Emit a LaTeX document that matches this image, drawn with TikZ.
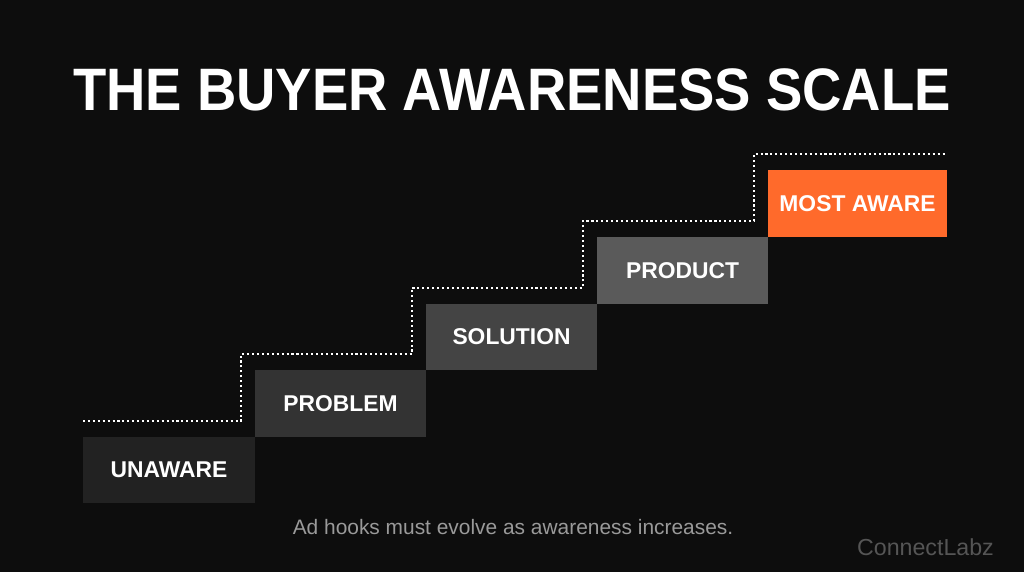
\documentclass[tikz,border=0pt]{standalone}
\usepackage{fontspec}
\setmainfont{Liberation Sans}
\usetikzlibrary{calc}
\definecolor{bg}{HTML}{0D0D0D}
\definecolor{s1}{HTML}{222222}
\definecolor{s2}{HTML}{333333}
\definecolor{s3}{HTML}{444444}
\definecolor{s4}{HTML}{5A5A5A}
\definecolor{orng}{HTML}{FF6A2B}
\definecolor{foot}{HTML}{9A9A9A}
\definecolor{brand}{HTML}{555555}
\tikzset{
  stepbox/.style={inner sep=0pt, outer sep=0pt, anchor=north west,
    minimum width=171*0.02cm, minimum height=67*0.02cm,
    text=white, font=\fontsize{13}{15}\selectfont\bfseries},
  stairline/.style={white, line width=1pt, dash pattern=on 1.2pt off 1.6pt}
}
\begin{document}
\begin{tikzpicture}[x=0.02cm,y=-0.02cm]
\fill[bg] (0,0) rectangle (1024,572);
\useasboundingbox (0,0) rectangle (1024,572);
\node[anchor=base, text=white, font=\fontsize{31}{36}\selectfont\bfseries] (title) at (512,110) {\scalebox{1}[1.1]{THE BUYER AWARENESS SCALE}};
\node[stepbox, fill=s1, minimum width=172*0.02cm, minimum height=66*0.02cm] (unaware) at (83,437) {UNAWARE};
\node[stepbox, fill=s2] (problem) at (255,370) {PROBLEM};
\node[stepbox, fill=s3, minimum height=66*0.02cm] (solution) at (426,304) {SOLUTION};
\node[stepbox, fill=s4] (product) at (597,237) {PRODUCT};
\node[stepbox, fill=orng, minimum width=179*0.02cm] (mostaware) at (768,170) {MOST AWARE};
\draw[stairline] ($(unaware.north west)+(0,-16)$) -| ($(problem.north west)+(-14,-16)$)
  -| ($(solution.north west)+(-14,-16)$)
  -| ($(product.north west)+(-14,-16)$)
  -| ($(mostaware.north west)+(-14,-16)$)
  -- ($(mostaware.north east)+(0,-16)$);
\node[anchor=base, text=foot, font=\fontsize{11.9}{14}\selectfont] (footer) at (513,534) {Ad hooks must evolve as awareness increases.};
\node[anchor=base east, text=brand, font=\fontsize{13.2}{16}\selectfont] (brandname) at (1000,555) {ConnectLabz};
\end{tikzpicture}
\end{document}
